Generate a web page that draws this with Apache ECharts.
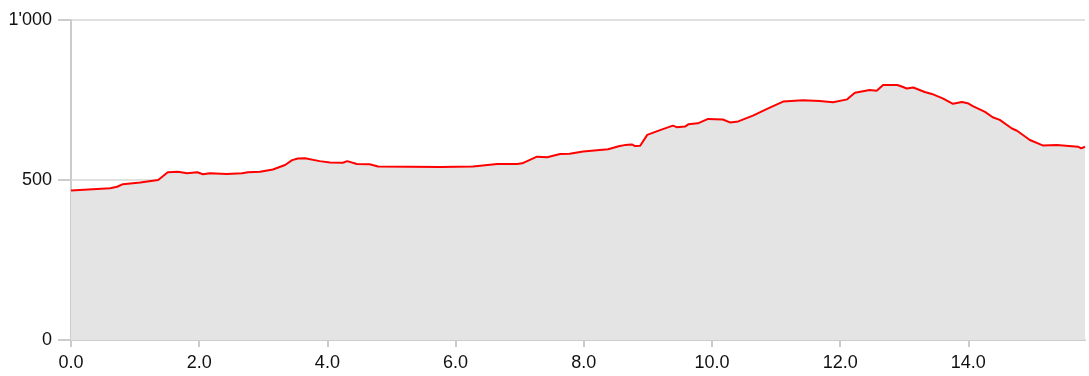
<!DOCTYPE html>
<html>
<head>
<meta charset="utf-8">
<script src="https://cdn.jsdelivr.net/npm/echarts@6/dist/echarts.min.js"></script>
<style>
html,body{margin:0;padding:0;background:#fff;}
#chart{width:1089px;height:376px;}
</style>
</head>
<body>
<div id="chart"></div>
<script>
// Distance in km
const distanceKm = [0.0,0.61,0.72,0.81,1.08,1.36,1.51,1.67,1.81,1.97,2.06,2.17,2.43,2.67,2.76,2.95,3.15,3.34,3.45,3.54,3.65,3.88,4.04,4.24,4.31,4.46,4.66,4.79,5.76,6.27,6.65,6.88,6.91,6.96,7.04,7.27,7.43,7.63,7.78,7.99,8.38,8.56,8.64,8.75,8.80,8.88,8.99,9.19,9.39,9.45,9.58,9.63,9.78,9.94,10.17,10.28,10.41,10.64,10.86,11.11,11.42,11.68,11.89,12.11,12.23,12.46,12.57,12.67,12.89,12.96,13.04,13.14,13.32,13.43,13.60,13.76,13.90,13.99,14.07,14.26,14.38,14.49,14.68,14.76,14.96,15.16,15.38,15.71,15.76,15.82];
// Elevation in m
const elevationM = [467,474,479,487,492,500,524,526,521,524,518,521,519,521,524,526,533,547,562,567,568,559,555,554,559,550,549,542,541,542,550,550,546,550,552,573,571,581,582,589,596,606,609,611,606,607,641,656,670,665,667,674,677,691,689,680,683,701,722,745,749,747,743,752,773,781,779,797,797,792,786,789,775,769,755,738,744,740,731,713,696,688,661,654,625,608,609,604,599,604];
const xTicks = {min: 0, max: 15.82, interval: 2};
const yTicks = {min: 0, max: 1000, interval: 500};

const chart = echarts.init(document.getElementById('chart'), null, {renderer: 'canvas'});
const labelFont = {fontFamily: 'Liberation Sans, Arial, sans-serif', fontSize: 18, color: '#111'};
chart.setOption({
  animation: false,
  grid: {left: 71, right: 4, top: 20, bottom: 36, containLabel: false},
  xAxis: {
    type: 'value', min: xTicks.min, max: xTicks.max, interval: xTicks.interval,
    axisLine: {show: true, lineStyle: {color: '#cccccc', width: 2}},
    axisTick: {show: true, length: 7, lineStyle: {color: '#cccccc', width: 2}},
    splitLine: {show: false},
    axisLabel: Object.assign({margin: 14, showMaxLabel: false, formatter: v => v.toFixed(1)}, labelFont)
  },
  yAxis: {
    type: 'value', min: yTicks.min, max: yTicks.max, interval: yTicks.interval,
    axisLine: {show: true, lineStyle: {color: '#cccccc', width: 2}},
    axisTick: {show: true, length: 13, lineStyle: {color: '#cccccc', width: 2}},
    splitLine: {show: true, lineStyle: {color: '#d6d6d6', width: 1.5}},
    axisLabel: Object.assign({margin: 19, formatter: v => v >= 1000 ? Math.floor(v/1000) + "'" + String(v%1000).padStart(3,'0') : String(v)}, labelFont)
  },
  series: [{
    type: 'line',
    data: distanceKm.map((d, i) => [d, elevationM[i]]),
    showSymbol: false,
    symbol: 'none',
    lineStyle: {color: '#ff0000', width: 2},
    areaStyle: {color: '#e4e4e4', opacity: 1},
    z: 1
  }]
});
</script>
</body>
</html>
